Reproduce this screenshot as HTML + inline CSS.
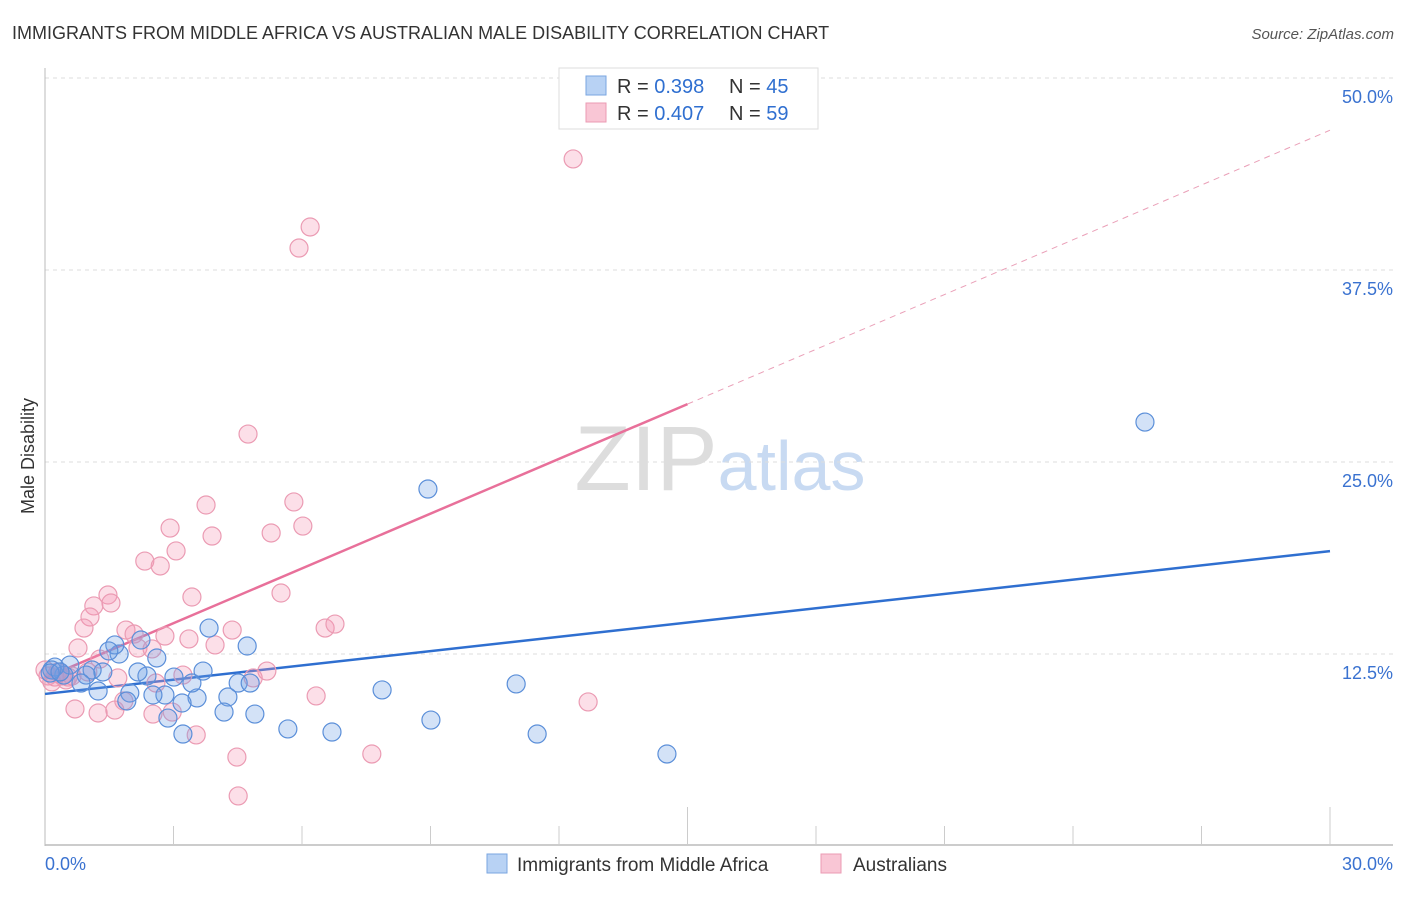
<!DOCTYPE html>
<html><head><meta charset="utf-8"><style>
body{margin:0;background:#fff;font-family:"Liberation Sans",sans-serif;}
svg text{font-family:"Liberation Sans",sans-serif;}
</style></head><body>
<svg id="chart" width="1406" height="892" viewBox="0 0 1406 892" xmlns="http://www.w3.org/2000/svg">
<text x="12" y="39" font-size="18" fill="#333">IMMIGRANTS FROM MIDDLE AFRICA VS AUSTRALIAN MALE DISABILITY CORRELATION CHART</text>
<text x="1394" y="39" font-size="15" fill="#555" text-anchor="end" font-style="italic">Source: ZipAtlas.com</text>
<text x="720" y="490" font-size="92" text-anchor="middle" fill="#ddd" font-family="Liberation Serif,serif">ZIP<tspan fill="#c8daf2" font-family="Liberation Sans,sans-serif" font-size="70">atlas</tspan></text>
<g id="grid"></g>
<g id="axes"></g>
<g id="lines"></g>
<g id="pts"></g>
<text transform="translate(34,456) rotate(-90)" font-size="18" fill="#333" text-anchor="middle">Male Disability</text>
<g>
<rect x="559" y="68" width="259" height="61" fill="#fff" stroke="#ddd"/>
<rect x="586" y="76" width="20" height="19" fill="#b8d2f4" stroke="#7aa6e0"/>
<rect x="586" y="103" width="20" height="19" fill="#f9c6d5" stroke="#eb9bb3"/>
<text x="617" y="93" font-size="20" fill="#333">R = <tspan fill="#2f6fd0">0.398</tspan><tspan x="729">N = </tspan><tspan fill="#2f6fd0">45</tspan></text>
<text x="617" y="120" font-size="20" fill="#333">R = <tspan fill="#2f6fd0">0.407</tspan><tspan x="729">N = </tspan><tspan fill="#2f6fd0">59</tspan></text>
</g>
<g>
<rect x="487" y="854" width="20" height="19" fill="#b8d2f4" stroke="#7aa6e0"/>
<text x="517" y="871" font-size="19" fill="#333">Immigrants from Middle Africa</text>
<rect x="821" y="854" width="20" height="19" fill="#f9c6d5" stroke="#eb9bb3"/>
<text x="853" y="871" font-size="19" fill="#333">Australians</text>
</g>
</svg>
<script>
const blueX=[25.68,8.94,11.0,7.87,9.01,11.49,14.52,6.70,5.67,4.72,4.90,4.51,4.79,4.27,4.18,3.83,3.69,3.55,3.43,3.20,3.22,3.01,2.87,2.80,2.61,2.52,2.38,2.24,2.17,1.98,1.91,1.73,1.63,1.49,1.35,1.24,1.10,0.96,0.84,0.58,0.44,0.23,0.16,0.12,0.35];
const blueY=[27.6,23.24,10.55,10.16,8.2,7.29,5.99,7.42,7.62,13.02,8.59,10.61,10.61,9.70,8.72,14.19,11.39,9.64,10.61,9.31,7.29,11.0,8.33,9.83,12.24,9.83,11.07,13.41,11.33,9.96,9.44,12.5,13.09,12.7,11.33,10.09,11.46,11.13,10.61,11.78,11.13,11.65,11.46,11.26,11.33];
const pinkX=[12.33,6.19,5.93,4.74,3.76,5.81,6.02,5.28,3.90,2.92,3.06,2.33,2.69,5.51,3.43,1.47,1.54,1.14,1.05,0.91,0.77,1.89,2.08,2.17,2.50,2.80,3.36,3.97,4.37,6.54,6.77,5.18,4.86,3.22,2.59,1.70,1.28,6.33,12.68,0.70,1.24,1.63,1.84,2.52,2.97,3.53,4.48,4.51,7.63,0.07,0.23,0.40,0.54,0.63,0.30,0.0,0.49,1.00,0.16];
const pinkY=[44.73,40.3,38.93,26.82,22.2,22.4,20.83,20.38,20.18,20.7,19.21,18.55,18.23,16.47,16.21,16.34,15.82,15.63,14.91,14.19,12.89,14.06,13.8,12.89,12.83,13.67,13.48,13.09,14.06,14.19,14.45,11.39,10.94,11.13,10.61,10.94,12.17,9.77,9.38,8.92,8.66,8.85,9.44,8.59,8.72,7.23,5.79,3.26,5.99,11.07,11.0,11.07,11.0,11.07,11.33,11.46,10.81,11.33,10.68];
const yTicks=[12.5,25.0,37.5,50.0];
const blueTrend=[9.9,19.2];
const pinkTrend=[10.94,46.6];
const pinkSolidEnd=15.0;
const X=v=>45+v/30*1285;
const Y=v=>846-v*15.36;
const NS='http://www.w3.org/2000/svg';
function mk(p,t,a){const e=document.createElementNS(NS,t);for(const k in a)e.setAttribute(k,a[k]);p.appendChild(e);return e;}
const grid=document.getElementById('grid'),axes=document.getElementById('axes'),lines=document.getElementById('lines'),pts=document.getElementById('pts');
yTicks.forEach(t=>{
 const l=mk(grid,'line',{x1:45,x2:1393,y1:Y(t),y2:Y(t),stroke:'#ddd','stroke-dasharray':'4,4'});
 
 
 const tx=mk(grid,'text',{x:1393,y:Y(t)+25,'font-size':18,fill:'#3a72d0','text-anchor':'end'});
 tx.textContent=t.toFixed(1)+'%';
 
 
});
mk(axes,'line',{x1:45,x2:45,y1:68,y2:846,stroke:'#bbb'});
mk(axes,'line',{x1:45,x2:1393,y1:845,y2:845,stroke:'#bbb','stroke-width':1.5});
for(let i=1;i<=10;i++){const x=X(i*3);const major=(i==5||i==10);mk(axes,'line',{x1:x,x2:x,y1:major?807:826,y2:845,stroke:'#ccc'});}
const xl0=mk(axes,'text',{x:45,y:870,'font-size':18,fill:'#3a72d0'});xl0.textContent='0.0%';


const xl1=mk(axes,'text',{x:1393,y:870,'font-size':18,fill:'#3a72d0','text-anchor':'end'});xl1.textContent='30.0%';


const bl=mk(lines,'line',{x1:X(0),y1:Y(blueTrend[0]),x2:X(30),y2:Y(blueTrend[1]),stroke:'#2f6fd0','stroke-width':2.5});


const pAt=v=>pinkTrend[0]+(pinkTrend[1]-pinkTrend[0])*v/30;
const pl=mk(lines,'line',{x1:X(0),y1:Y(pAt(0)),x2:X(pinkSolidEnd),y2:Y(pAt(pinkSolidEnd)),stroke:'#e8709a','stroke-width':2.5});


const pd=mk(lines,'line',{x1:X(pinkSolidEnd),y1:Y(pAt(pinkSolidEnd)),x2:X(30),y2:Y(pAt(30)),stroke:'#eaa0b8','stroke-width':1,'stroke-dasharray':'6,5'});


pinkX.forEach((v,i)=>{const c=mk(pts,'circle',{cx:X(v),cy:Y(pinkY[i]),r:9,fill:'rgba(244,150,180,0.3)',stroke:'#eb9bb3','stroke-width':1.2});
 
 });
blueX.forEach((v,i)=>{const c=mk(pts,'circle',{cx:X(v),cy:Y(blueY[i]),r:9,fill:'rgba(110,160,230,0.3)',stroke:'#5b8fd9','stroke-width':1.2});
 
 });
</script>
</body></html>
